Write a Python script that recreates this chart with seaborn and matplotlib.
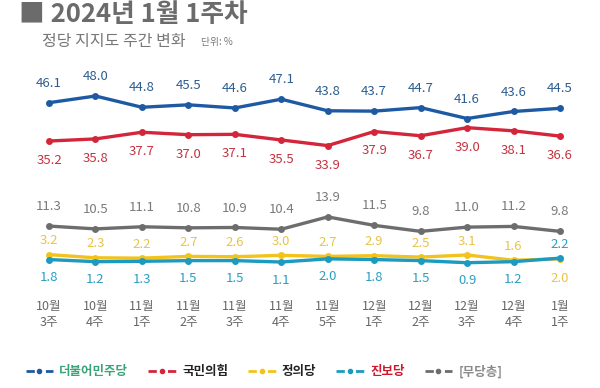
import pandas as pd
import seaborn as sns
import matplotlib.pyplot as plt
from matplotlib.lines import Line2D

weeks = ['10월\n3주', '10월\n4주', '11월\n1주', '11월\n2주', '11월\n3주', '11월\n4주',
         '11월\n5주', '12월\n1주', '12월\n2주', '12월\n3주', '12월\n4주', '1월\n1주']
minjoo = [46.1, 48.0, 44.8, 45.5, 44.6, 47.1, 43.8, 43.7, 44.7, 41.6, 43.6, 44.5]
ppp = [35.2, 35.8, 37.7, 37.0, 37.1, 35.5, 33.9, 37.9, 36.7, 39.0, 38.1, 36.6]
nonparty = [11.3, 10.5, 11.1, 10.8, 10.9, 10.4, 13.9, 11.5, 9.8, 11.0, 11.2, 9.8]
justice = [3.2, 2.3, 2.2, 2.7, 2.6, 3.0, 2.7, 2.9, 2.5, 3.1, 1.6, 2.0]
progressive = [1.8, 1.2, 1.3, 1.5, 1.5, 1.1, 2.0, 1.8, 1.5, 0.9, 1.2, 2.2]

names = ['더불어민주당', '국민의힘', '정의당', '진보당', '[무당층]']
line_colors = {'더불어민주당': '#1d5aa3', '국민의힘': '#d3263a', '정의당': '#f2c31c',
               '진보당': '#1c9ac0', '[무당층]': '#6d6d6d'}
label_colors = {'더불어민주당': '#2d5d91', '국민의힘': '#c23440', '정의당': '#e9c446',
                '진보당': '#2a9fc2', '[무당층]': '#7a7a7a'}

sns.set_theme(style='white')
plt.rcParams['font.family'] = ['Noto Sans CJK KR', 'DejaVu Sans']

idx = list(range(len(weeks)))
top = pd.DataFrame({'x': idx * 2, 'v': minjoo + ppp,
                    'party': ['더불어민주당'] * 12 + ['국민의힘'] * 12})
bottom = pd.DataFrame({'x': idx * 3, 'v': nonparty + justice + progressive,
                       'party': ['[무당층]'] * 12 + ['정의당'] * 12 + ['진보당'] * 12})

fig = plt.figure(figsize=(6, 3.88), dpi=100)
ax1 = fig.add_axes([0.043, 0.5876, 0.929, 0.232])
ax2 = fig.add_axes([0.043, 0.278, 0.929, 0.232])

for ax, df, ylim in [(ax1, top, (29.8, 55.4)), (ax2, bottom, (-4.04, 21.5))]:
    sns.lineplot(data=df, x='x', y='v', hue='party', palette=line_colors, marker='o',
                 markersize=5, markeredgewidth=0, linewidth=2.4, legend=False, ax=ax)
    ax.set_xlim(-0.5, 11.5)
    ax.set_ylim(*ylim)
    ax.set_xlabel('')
    ax.set_ylabel('')
    ax.set_yticks([])
    sns.despine(ax=ax, left=True, bottom=True)

ax1.set_xticks([])
ax2.set_xticks(idx)
ax2.set_xticklabels(weeks, fontsize=9, color='#666666', linespacing=1.35)
ax2.tick_params(axis='x', length=0, pad=14)


def annotate(ax, values, party, offsets):
    for i, v in enumerate(values):
        off = offsets[i]
        ax.annotate(f'{v:.1f}', (i, v), xytext=(0, off), textcoords='offset points',
                    ha='center', va='center', fontsize=9.5,
                    color=label_colors[party])


annotate(ax1, minjoo, '더불어민주당', [14] * 12)
annotate(ax1, ppp, '국민의힘', [-14] * 12)
annotate(ax2, nonparty, '[무당층]', [14] * 12)
annotate(ax2, justice, '정의당', [10] * 11 + [-14])
annotate(ax2, progressive, '진보당', [-13] * 11 + [10])

fig.text(0.031, 0.962, '■ 2024년 1월 1주차', fontsize=18.5, fontweight='bold',
         color='#6b6b6b', va='center')
fig.text(0.070, 0.893, '정당 지지도 주간 변화', fontsize=11.5, color='#777777', va='center')
fig.text(0.335, 0.891, '단위: %', fontsize=7, color='#777777', va='center')

handles = [Line2D([], [], color=line_colors[n], linewidth=2, marker='o', markersize=3,
                  linestyle=(0, (3, 1.5, 1, 1.5)))
           for n in names]
leg = fig.legend(handles, names, loc='center', bbox_to_anchor=(0.44, 0.042), ncol=5,
                 frameon=False, fontsize=9, handlelength=2.2, handletextpad=0.5,
                 columnspacing=1.6)
text_colors = ['#3aa37a', '#222222', '#222222', '#d0182a', '#8a8a8a']
for t, c in zip(leg.get_texts(), text_colors):
    t.set_color(c)
    t.set_fontweight('bold')

fig.savefig('out.png', dpi=100)
plt.close(fig)
